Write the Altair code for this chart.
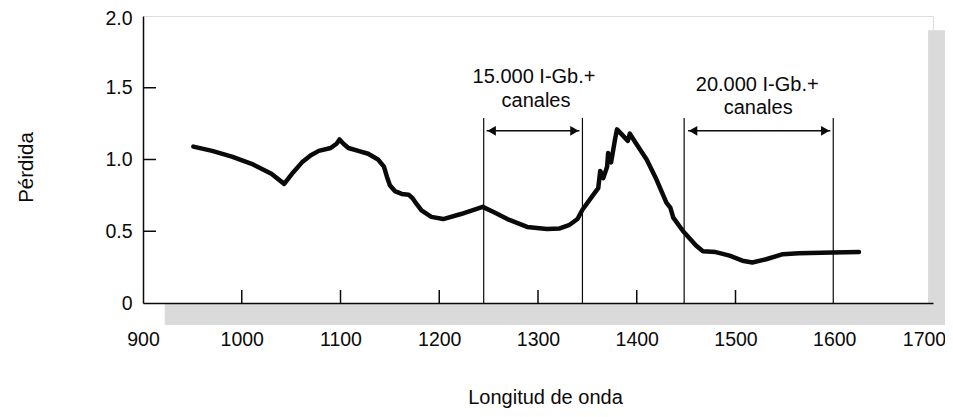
import altair as alt
import pandas as pd

# ---- data ----
wavelength = [951, 970, 990, 1010, 1030, 1043, 1052, 1061, 1070, 1078, 1090, 1096, 1099,
              1103, 1108, 1118, 1128, 1138, 1144, 1147, 1150, 1155, 1162, 1169, 1173, 1177,
              1182, 1192, 1204, 1222, 1244, 1256, 1269, 1289, 1309, 1322, 1332, 1340, 1345,
              1355, 1361, 1363, 1366, 1370, 1371, 1374, 1378, 1380, 1393, 1391, 1400, 1410,
              1420, 1430, 1434, 1437, 1447, 1460, 1467, 1480, 1494, 1507, 1517, 1531, 1548,
              1564, 1598, 1625]
loss = [1.09, 1.06, 1.02, 0.97, 0.90, 0.83, 0.91, 0.98, 1.03, 1.06, 1.08, 1.11, 1.14,
        1.11, 1.08, 1.06, 1.04, 1.00, 0.95, 0.88, 0.82, 0.78, 0.76, 0.755, 0.73, 0.69,
        0.645, 0.60, 0.585, 0.62, 0.67, 0.63, 0.585, 0.53, 0.515, 0.52, 0.545, 0.585, 0.65,
        0.745, 0.80, 0.92, 0.87, 0.95, 1.045, 0.98, 1.14, 1.21, 1.18, 1.13, 1.105, 1.00,
        0.86, 0.70, 0.665, 0.595, 0.50, 0.40, 0.36, 0.355, 0.33, 0.295, 0.282, 0.305, 0.34,
        0.347, 0.352, 0.356]

x_tick_labels = [900, 1000, 1100, 1200, 1300, 1400, 1500, 1600, 1700]
x_tick_marks = [1000, 1100, 1200, 1300, 1400, 1500]
y_tick_labels = [0, 0.5, 1.0, 1.5, 2.0]
y_tick_marks = [0.5, 1.0, 1.5]

band_lines = [1245, 1345, 1448, 1599]
band_bottom = [0, 0, 0, 0]
band_top = [1.29, 1.29, 1.29, 1.29]

arrow_start = [1248, 1452]
arrow_end = [1342, 1596]
arrow_y = [1.2, 1.2]

ann_text = ["15.000 I-Gb.+", "canales", "20.000 I-Gb.+", "canales"]
ann_x = [1296, 1298, 1522, 1523]
ann_y = [1.575, 1.408, 1.519, 1.359]

# page shading (scan shadow) rectangles
shade_x1 = [922, 1695]
shade_x2 = [1716, 1716]
shade_y1 = [-0.153, -0.153]
shade_y2 = [0.0, 1.90]

FONT = "Liberation Sans"
INK = "#0a0a0a"
W, H = 790, 287

curve_df = pd.DataFrame({"x": wavelength, "y": loss})
vl_df = pd.DataFrame({"x": band_lines, "y": band_bottom, "y2": band_top})
arr_df = pd.DataFrame({"x": arrow_start, "x2": arrow_end, "y": arrow_y})
ann_df = pd.DataFrame({"t": ann_text, "x": ann_x, "y": ann_y})
shade_df = pd.DataFrame({"x": shade_x1, "x2": shade_x2, "y": shade_y1, "y2": shade_y2})
xt_df = pd.DataFrame({"x": x_tick_marks})
yt_df = pd.DataFrame({"y": y_tick_marks})

xscale = alt.Scale(domain=[900, 1700], nice=False, zero=False)
yscale = alt.Scale(domain=[0, 2], nice=False)

xaxis = alt.Axis(values=x_tick_labels, title="Longitud de onda", ticks=False, grid=False,
                 labelPadding=27, labelFontSize=19.5, labelFont=FONT, labelColor=INK,
                 labelExpr="format(datum.value, 'd')",
                 labelOffset={"condition": {"test": "datum.value == 1700", "value": -9},
                              "value": 0},
                 domainColor=INK, domainWidth=1.5, titleFont=FONT, titleFontSize=20,
                 titleFontWeight="normal", titleColor=INK, titleX=402, titleY=100,
                 titleBaseline="alphabetic", titleAlign="center", labelFlush=False,
                 labelOverlap=False, zindex=2)
yaxis = alt.Axis(values=y_tick_labels, title="Pérdida", ticks=False, grid=False,
                 labelPadding=11, labelFontSize=19.5, labelFont=FONT, labelColor=INK,
                 labelExpr="datum.value == 0 ? '0' : format(datum.value, '.1f')",
                 labelOffset={"condition": {"test": "datum.value == 2", "value": 2.5},
                              "value": 0},
                 domainColor=INK, domainWidth=1.5, titleFont=FONT, titleFontSize=20.5,
                 titleFontWeight="normal", titleColor=INK, titleX=-111, titleY=151,
                 titleAngle=-90, titleBaseline="alphabetic", titleAlign="center",
                 labelFlush=False, zindex=2)

shade = alt.Chart(shade_df).mark_rect(color="#dadada").encode(
    x=alt.X("x:Q", scale=xscale, axis=xaxis),
    x2="x2:Q",
    y=alt.Y("y:Q", scale=yscale, axis=yaxis),
    y2="y2:Q",
)

xticks = alt.Chart(xt_df).mark_rule(color=INK, strokeWidth=1.5).encode(
    x="x:Q", y=alt.value(H), y2=alt.value(H - 13)
)
yticks = alt.Chart(yt_df).mark_rule(color=INK, strokeWidth=1.5).encode(
    y="y:Q", x=alt.value(0), x2=alt.value(13)
)

vlines = alt.Chart(vl_df).mark_rule(color=INK, strokeWidth=1.2).encode(
    x="x:Q", y="y:Q", y2="y2:Q"
)

arrows = alt.Chart(arr_df).mark_rule(color=INK, strokeWidth=1.5).encode(
    x="x:Q", x2="x2:Q", y="y:Q"
)
head_l = alt.Chart(arr_df).mark_point(shape="triangle-left", filled=True, color=INK,
                                      size=95, opacity=1, xOffset=5).encode(x="x:Q", y="y:Q")
head_r = alt.Chart(arr_df).mark_point(shape="triangle-right", filled=True, color=INK,
                                      size=95, opacity=1, xOffset=-5).encode(x="x2:Q", y="y:Q")

ann = alt.Chart(ann_df).mark_text(font=FONT, fontSize=20, color=INK, align="center",
                                  baseline="middle").encode(x="x:Q", y="y:Q", text="t:N")

curve = alt.Chart(curve_df).mark_line(color=INK, strokeWidth=4.5, strokeJoin="round",
                                      strokeCap="round").encode(x="x:Q", y="y:Q")

chart = alt.layer(shade, xticks, yticks, vlines, arrows, head_l, head_r, ann, curve).properties(
    width=W, height=H,
    autosize=alt.AutoSizeParams(type="none"),
    padding={"left": 135, "top": 8, "right": 12, "bottom": 106},
).configure_view(stroke=None).configure(background="white")

chart.save("out.html", embed_options={"renderer": "svg", "actions": False})
